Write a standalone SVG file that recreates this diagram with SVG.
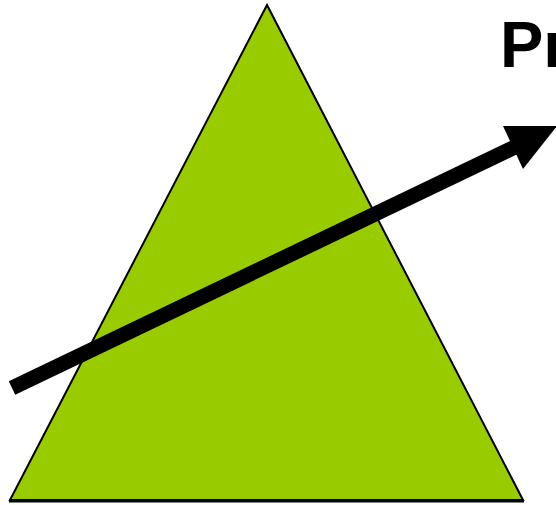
<svg xmlns="http://www.w3.org/2000/svg" width="556" height="505" viewBox="0 0 556 505">
<style>
.prism{fill:#99cc00;stroke:#000;stroke-width:2;stroke-linejoin:miter}
.base{stroke:#000;stroke-width:3}
.shaft{stroke:#000;stroke-width:15;fill:none}
.head{fill:#000}
.title{font-family:"Liberation Sans",Arial,sans-serif;font-weight:bold;font-size:65px;fill:#000}
</style>
<rect width="556" height="505" fill="#fff"/>
<g id="prism">
<polygon class="prism" points="267,5 10,500 523,500"/>
<line class="base" x1="9" y1="501" x2="524" y2="501"/>
</g>
<g id="connectors">
<line class="shaft" x1="12" y1="388" x2="515" y2="147"/>
<polygon class="head" points="503,126 557,126 523,169"/>
</g>
<g id="label">
<text class="title" x="500" y="67">Pr</text>
</g>
</svg>
